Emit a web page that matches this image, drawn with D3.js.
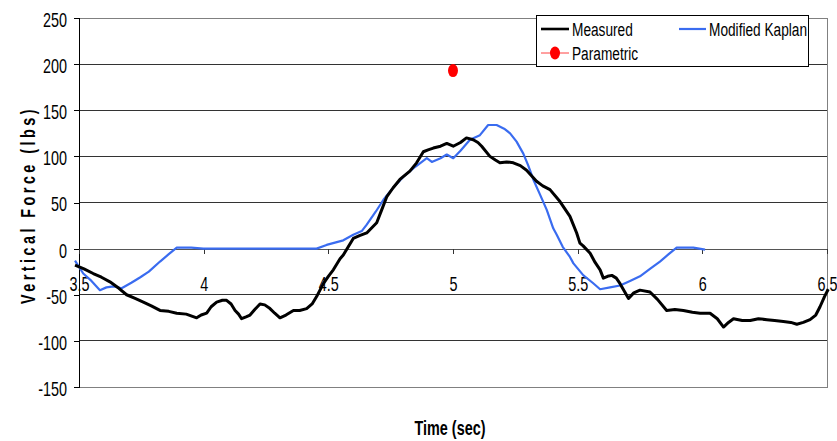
<!DOCTYPE html>
<html><head><meta charset="utf-8">
<script src="https://cdn.jsdelivr.net/npm/d3@7"></script>
<style>
html,body{margin:0;padding:0;background:#fff;}
svg text{font-family:'Liberation Sans',Arial,sans-serif;fill:#000;}
</style></head>
<body>
<svg id="chart" width="837" height="441"></svg>
<script>
const yTicks = [250,200,150,100,50,0,-50,-100,-150];
const xTicks = [3.5,4,4.5,5,5.5,6,6.5];
const xTickLabels = ["3.5","4","4.5","5","5.5","6","6.5"];

const measuredTime = [3.484,3.52,3.557,3.59,3.624,3.66,3.691,3.725,3.758,3.79,3.825,3.86,3.892,3.93,3.972,3.99,4.012,4.03,4.052,4.075,4.092,4.11,4.126,4.14,4.152,4.17,4.186,4.205,4.226,4.245,4.266,4.285,4.306,4.33,4.36,4.385,4.413,4.435,4.453,4.48,4.5,4.52,4.547,4.56,4.6,4.625,4.654,4.694,4.714,4.734,4.76,4.787,4.827,4.854,4.881,4.9,4.921,4.95,4.975,5.001,5.03,5.054,5.081,5.1,5.115,5.148,5.17,5.188,5.215,5.242,5.27,5.295,5.335,5.36,5.389,5.429,5.469,5.496,5.509,5.522,5.55,5.57,5.59,5.603,5.62,5.637,5.655,5.67,5.704,5.725,5.75,5.79,5.82,5.857,5.89,5.924,5.96,5.991,6.031,6.06,6.085,6.105,6.125,6.16,6.192,6.225,6.259,6.29,6.325,6.355,6.379,6.405,6.432,6.455,6.472,6.49,6.505];
const measuredForce = [-18,-22,-27,-31,-36,-43,-50,-54,-58,-62,-67,-68,-70,-71,-75,-72,-70,-63,-58,-56,-56,-60,-67,-71,-76,-74,-72,-66,-60,-61,-65,-70,-75,-72,-67,-67,-65,-60,-52,-38,-30,-23,-11,-7,11,14,17,28,42,56,66,75,84,93,105,107,109,111,114,111,115,120,118,115,111,100,96,93,94,93,90,85,73,68,64,51,35,17,6,3,-5,-15,-23,-32,-30,-29,-32,-38,-54,-48,-45,-47,-55,-67,-66,-67,-69,-70,-70,-76,-85,-80,-76,-78,-78,-76,-77,-78,-79,-80,-82,-80,-77,-72,-63,-52,-44];

const kaplanTime = [3.484,3.517,3.55,3.584,3.61,3.638,3.671,3.71,3.746,3.78,3.825,3.86,3.892,3.95,3.999,4.06,4.2,4.35,4.453,4.493,4.56,4.6,4.634,4.654,4.69,4.721,4.76,4.801,4.85,4.895,4.915,4.95,4.975,5.001,5.03,5.068,5.108,5.141,5.175,5.205,5.229,5.255,5.282,5.302,5.322,5.35,5.376,5.402,5.416,5.44,5.469,5.483,5.523,5.56,5.59,5.63,5.67,5.71,5.75,5.79,5.83,5.865,5.897,5.93,5.964,6.011];
const kaplanForce = [-13,-27,-35,-45,-42,-41,-43,-37,-31,-25,-14,-6,1,1,0,0,0,0,0,4,9,15,19,26,40,53,66,78,89,98,94,98,102,98,106,118,123,134,134,130,125,116,103,90,75,58,42,22,15,2,-9,-16,-29,-37,-44,-42,-40,-35,-30,-22,-14,-6,1,1,1,-1];

const parametricTime = [5.0];
const parametricForce = [193];

const SX = 0.72; // horizontal condensing to mimic the narrow face
const svg = d3.select("#chart");
const L = 79, R = 827, T = 18, B = 387;
const x = d3.scaleLinear().domain([3.5,6.5]).range([L,R]);
const y = d3.scaleLinear().domain([-150,250]).range([B,T]);

function ntext(g, px, py, str, size, anchor, weight){
  return g.append("text").attr("transform",`translate(${px},${py}) scale(${SX},1)`)
    .attr("text-anchor",anchor||"start").attr("font-size",size)
    .attr("font-weight",weight||"normal").text(str);
}

// gridlines
svg.append("g").selectAll("line").data(yTicks.filter(v=>v!==250 && v!==-150 && v!==0)).join("line")
  .attr("x1",L).attr("x2",R).attr("y1",d=>y(d)).attr("y2",d=>y(d))
  .attr("stroke","#333").attr("stroke-width",1).attr("shape-rendering","crispEdges");
// plot border
svg.append("rect").attr("x",L).attr("y",T).attr("width",R-L).attr("height",B-T)
  .attr("fill","none").attr("stroke","#808080").attr("stroke-width",1).attr("shape-rendering","crispEdges");

// y axis
const yAxis = d3.axisLeft(y).tickValues(yTicks).tickSize(5).tickPadding(7).tickFormat(d=>String(d));
const gy = svg.append("g").attr("transform",`translate(${L},0)`).call(yAxis);
gy.select(".domain").attr("stroke","#000").attr("shape-rendering","crispEdges");
gy.selectAll(".tick line").attr("stroke","#000").attr("shape-rendering","crispEdges");
gy.selectAll("text").attr("font-size",20).style("font-family","'Liberation Sans',Arial,sans-serif")
  .attr("x",-12/SX).attr("transform",`scale(${SX},1)`).attr("dy","0.42em");

// x axis at y=0
const xAxis = d3.axisBottom(x).tickValues(xTicks).tickSize(5).tickPadding(24)
  .tickFormat((d,i)=>xTickLabels[i]);
const gx = svg.append("g").attr("transform",`translate(0,${y(0)})`).call(xAxis);
gx.select(".domain").attr("stroke","#555").attr("shape-rendering","crispEdges");
gx.selectAll(".tick line").attr("stroke","#333").attr("shape-rendering","crispEdges");
gx.selectAll("text").attr("font-size",20).style("font-family","'Liberation Sans',Arial,sans-serif")
  .attr("transform",`scale(${SX},1)`).attr("y",42).attr("dy",0);

// lines
const line = d3.line().x(d=>x(d[0])).y(d=>y(d[1]));
const kaplan = kaplanTime.map((t,i)=>[t,kaplanForce[i]]);
const measured = measuredTime.map((t,i)=>[t,measuredForce[i]]);
svg.append("path").datum(kaplan).attr("d",line).attr("fill","none")
  .attr("stroke","#3a6cf0").attr("stroke-width",2.2).attr("stroke-linejoin","round");
svg.append("path").datum(measured).attr("d",line).attr("fill","none")
  .attr("stroke","#000").attr("stroke-width",3).attr("stroke-linejoin","round");

// parametric
svg.selectAll("ellipse.pm").data(parametricTime.map((t,i)=>[t,parametricForce[i]])).join("ellipse")
  .attr("class","pm").attr("cx",d=>x(d[0])).attr("cy",d=>y(d[1])).attr("rx",5).attr("ry",6.5).attr("fill","#ff0000");

// legend
const lg = svg.append("g");
lg.append("rect").attr("x",536.5).attr("y",15.5).attr("width",272).attr("height",51)
  .attr("fill","#fff").attr("stroke","#000").attr("stroke-width",1);
lg.append("line").attr("x1",541).attr("x2",569).attr("y1",29).attr("y2",29).attr("stroke","#000").attr("stroke-width",2.6);
ntext(lg,572,36,"Measured",19);
lg.append("line").attr("x1",679).attr("x2",706).attr("y1",29).attr("y2",29).attr("stroke","#3a6cf0").attr("stroke-width",2.2);
ntext(lg,709,36,"Modified Kaplan",19);
lg.append("line").attr("x1",541).attr("x2",569).attr("y1",53).attr("y2",53).attr("stroke","#ff4040").attr("stroke-width",1);
lg.append("ellipse").attr("cx",555).attr("cy",53).attr("rx",5).attr("ry",6.5).attr("fill","#ff0000");
ntext(lg,572,60,"Parametric",19);

// titles
ntext(svg,450,435,"Time (sec)",20,"middle","bold");
svg.append("text").attr("transform",`translate(35,205) rotate(-90) scale(${SX},1)`).attr("text-anchor","middle")
  .attr("font-size",20).attr("font-weight","bold").attr("letter-spacing","4.8px").text("Vertical Force (lbs)");
</script>
</body></html>
